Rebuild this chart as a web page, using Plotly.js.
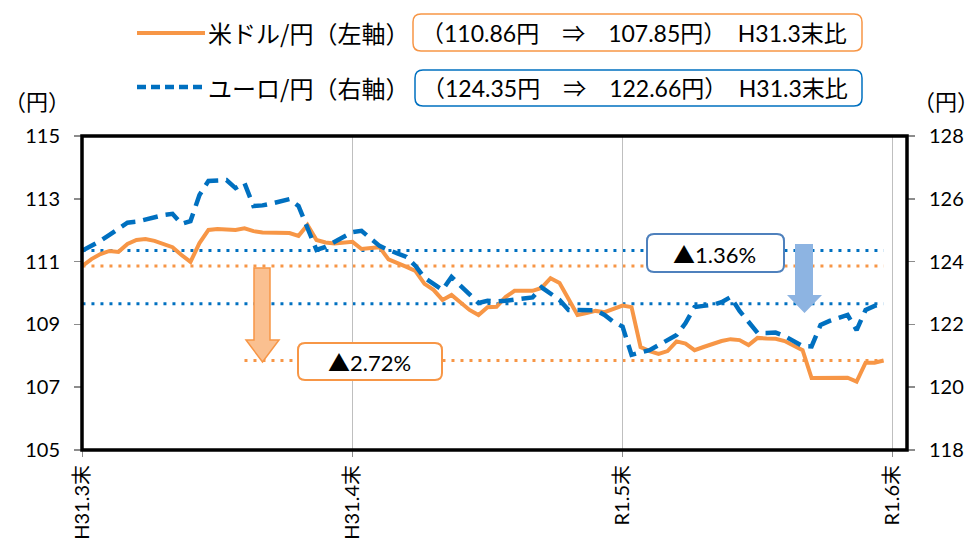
<!DOCTYPE html>
<html>
<head>
<meta charset="utf-8">
<script src="https://cdn.plot.ly/plotly-3.0.1.min.js"></script>
<style>
  html, body { margin: 0; padding: 0; background: #fff; }
  #chart { width: 980px; height: 556px; }
</style>
</head>
<body>
<div id="chart"></div>
<script>
// USD/JPY and EUR/JPY, daily, H31.3末 -> R1.6末

// ---- data ----
const tickPos = [0, 30, 60, 90];
const tickLabels = ['H31.3末', 'H31.4末', 'R1.5末', 'R1.6末'];

// 米ドル/円 (left axis)
const usd = [
  110.86, 111.08, 111.24, 111.34, 111.31, 111.56, 111.69, 111.72, 111.66, 111.56,
  111.46, 111.21, 110.99, 111.59, 112.01, 112.04, 112.04, 112.01, 112.06, 111.97,
  111.93, 111.93, 111.93, 111.91, 111.82, 112.17, 111.69, 111.61, 111.58, 111.61,
  111.63, 111.40, 111.42, 111.46, 111.07, 110.96, 110.83, 110.70, 110.29, 110.10,
  109.78, 109.94, 109.71, 109.46, 109.30, 109.55, 109.56, 109.87, 110.07, 110.07,
  110.07, 110.16, 110.47, 110.32, 109.78, 109.30, 109.36, 109.43, 109.39, 109.49,
  109.60, 109.55, 108.28, 108.15, 108.06, 108.15, 108.46, 108.39, 108.18, 108.28,
  108.38, 108.47, 108.53, 108.50, 108.34, 108.57, 108.55, 108.54, 108.47, 108.34,
  108.18, 107.29, 107.30, 107.30, 107.29, 107.30, 107.18, 107.78, 107.78, 107.85
];

// ユーロ/円 (right axis)
const eur = [
  124.35, 124.50, 124.66, 124.85, 125.04, 125.24, 125.27, 125.34, 125.42, 125.48,
  125.52, 125.20, 125.29, 126.12, 126.57, 126.58, 126.60, 126.34, 126.50, 125.77,
  125.79, 125.85, 125.93, 125.99, 125.77, 125.07, 124.37, 124.47, 124.62, 124.78,
  124.94, 124.98, 124.75, 124.50, 124.37, 124.26, 124.15, 123.86, 123.48, 123.29,
  123.10, 123.51, 123.22, 122.94, 122.68, 122.75, 122.73, 122.75, 122.78, 122.81,
  122.86, 123.18, 123.00, 122.78, 122.46, 122.46, 122.47, 122.45, 122.30, 122.08,
  121.93, 121.03, 121.11, 121.18, 121.34, 121.50, 121.66, 122.04, 122.55, 122.59,
  122.62, 122.71, 122.87, 122.43, 122.08, 121.73, 121.73, 121.74, 121.63, 121.46,
  121.31, 121.30, 121.98, 122.11, 122.19, 122.30, 121.82, 122.46, 122.59, 122.66
];

// ---- helpers ----
const ORANGE = '#F79646';
const BLUE = '#0070C0';
const FONT = 'Lato, "Noto Sans CJK JP", sans-serif';
const JP = '"Noto Sans CJK JP", Lato, sans-serif';

const W = 980, H = 556;
const M = { l: 82, r: 73, t: 136, b: 106 };
const PW = W - M.l - M.r, PH = H - M.t - M.b;

// pixel -> paper coords, for decorations only
function px(x) { return ((x - M.l) / PW).toFixed(5); }
function py(y) { return ((H - M.b - y) / PH).toFixed(5); }

function roundRect(x0, y0, x1, y1, r) {
  return 'M' + px(x0 + r) + ',' + py(y0) +
    ' L' + px(x1 - r) + ',' + py(y0) +
    ' Q' + px(x1) + ',' + py(y0) + ' ' + px(x1) + ',' + py(y0 + r) +
    ' L' + px(x1) + ',' + py(y1 - r) +
    ' Q' + px(x1) + ',' + py(y1) + ' ' + px(x1 - r) + ',' + py(y1) +
    ' L' + px(x0 + r) + ',' + py(y1) +
    ' Q' + px(x0) + ',' + py(y1) + ' ' + px(x0) + ',' + py(y1 - r) +
    ' L' + px(x0) + ',' + py(y0 + r) +
    ' Q' + px(x0) + ',' + py(y0) + ' ' + px(x0 + r) + ',' + py(y0) + ' Z';
}

// down arrow: shaft x0..x1 from yTop to yNeck, head hx0..hx1 to tip
function downArrow(x0, x1, yTop, yNeck, hx0, hx1, yTip) {
  const cx = (hx0 + hx1) / 2;
  return 'M' + px(x0) + ',' + py(yTop) + ' L' + px(x1) + ',' + py(yTop) +
    ' L' + px(x1) + ',' + py(yNeck) + ' L' + px(hx1) + ',' + py(yNeck) +
    ' L' + px(cx) + ',' + py(yTip) + ' L' + px(hx0) + ',' + py(yNeck) +
    ' L' + px(x0) + ',' + py(yNeck) + ' Z';
}

const idx = usd.map((_, i) => i);
const last = usd.length - 1;
const usdChg = ((usd[last] / usd[0] - 1) * 100);
const eurChg = ((eur[last] / eur[0] - 1) * 100);
const sp = '\u3000';

// ---- traces ----
const traces = [
  {
    x: idx, y: usd, name: '米ドル/円（左軸）', type: 'scatter', mode: 'lines',
    line: { color: ORANGE, width: 4 }, yaxis: 'y', hoverinfo: 'skip'
  },
  {
    x: idx, y: eur, name: 'ユーロ/円（右軸）', type: 'scatter', mode: 'lines',
    line: { color: BLUE, width: 4.5, dash: '15px,8px' }, yaxis: 'y2', hoverinfo: 'skip'
  }
];

// ---- shapes ----
const shapes = [
  // start / end reference levels
  { type: 'line', xref: 'x', yref: 'y', x0: 0, x1: last, y0: usd[0], y1: usd[0],
    line: { color: ORANGE, width: 3, dash: '3px,6px' }, layer: 'below' },
  { type: 'line', xref: 'x', yref: 'y', x0: 18, x1: last, y0: usd[last], y1: usd[last],
    line: { color: ORANGE, width: 3, dash: '3px,6px' }, layer: 'below' },
  { type: 'line', xref: 'x', yref: 'y2', x0: 0, x1: last, y0: eur[0], y1: eur[0],
    line: { color: BLUE, width: 3, dash: '3px,6px' }, layer: 'below' },
  { type: 'line', xref: 'x', yref: 'y2', x0: 0, x1: last, y0: eur[last], y1: eur[last],
    line: { color: BLUE, width: 3, dash: '3px,6px' }, layer: 'below' },

  // arrows
  { type: 'path', xref: 'paper', yref: 'paper',
    path: downArrow(254, 270, 268, 340, 246, 279, 362),
    fillcolor: '#FAC090', line: { color: ORANGE, width: 1.5 } },
  { type: 'path', xref: 'paper', yref: 'paper',
    path: downArrow(795, 813, 244, 295, 787, 822, 313),
    fillcolor: '#8DB4E2', line: { width: 0 } },

  // change boxes
  { type: 'path', xref: 'paper', yref: 'paper', path: roundRect(298, 343, 442, 380, 7),
    fillcolor: '#fff', line: { color: ORANGE, width: 2 } },
  { type: 'path', xref: 'paper', yref: 'paper', path: roundRect(647, 234, 784, 272, 7),
    fillcolor: '#fff', line: { color: '#4F81BD', width: 2 } },

  // legend
  { type: 'line', xref: 'paper', yref: 'paper', x0: px(137), x1: px(205), y0: py(33), y1: py(33),
    line: { color: ORANGE, width: 4 } },
  { type: 'line', xref: 'paper', yref: 'paper', x0: px(137), x1: px(205), y0: py(87), y1: py(87),
    line: { color: BLUE, width: 4.5, dash: '9px,5px' } },
  { type: 'path', xref: 'paper', yref: 'paper', path: roundRect(413, 14, 862, 51, 8),
    fillcolor: 'rgba(0,0,0,0)', line: { color: ORANGE, width: 1.5 } },
  { type: 'path', xref: 'paper', yref: 'paper', path: roundRect(415, 70, 862, 106, 8),
    fillcolor: 'rgba(0,0,0,0)', line: { color: BLUE, width: 1.5 } },

  // plot frame
  { type: 'rect', xref: 'paper', yref: 'paper', x0: 0, x1: 1, y0: 0, y1: 1,
    line: { color: '#000', width: 3.5 }, layer: 'above' }
];

// ---- annotations ----
function note(text, x, y, size, anchor, family) {
  return { text: text, xref: 'paper', yref: 'paper', x: px(x), y: py(y),
    xanchor: anchor || 'center', yanchor: 'middle', showarrow: false,
    font: { family: family || FONT, size: size, color: '#000' } };
}

const annotations = [
  note('米ドル/円（左軸）', 206, 33, 24, 'left', JP),
  note('ユーロ/円（右軸）', 206, 87, 24, 'left', JP),
  note('（' + usd[0].toFixed(2) + '円' + sp + '⇒' + sp + usd[last].toFixed(2) + '円）' + sp + 'H31.3末比',
    634, 33, 23),
  note('（' + eur[0].toFixed(2) + '円' + sp + '⇒' + sp + eur[last].toFixed(2) + '円）' + sp + 'H31.3末比',
    635, 88, 23),
  note('▲' + Math.abs(usdChg).toFixed(2) + '%', 370, 362, 22),
  note('▲' + Math.abs(eurChg).toFixed(2) + '%', 715, 254, 22),
  note('（円）', 37, 100, 22, 'center', JP),
  note('（円）', 946, 100, 22, 'center', JP)
];

// ---- layout ----
const layout = {
  width: W, height: H,
  margin: M,
  paper_bgcolor: '#fff',
  plot_bgcolor: '#fff',
  showlegend: false,
  font: { family: FONT, size: 20, color: '#000' },
  xaxis: {
    range: [-0.05, 91.6],
    tickvals: tickPos,
    ticktext: tickLabels,
    tickangle: -90,
    ticks: 'outside', ticklen: 6, tickwidth: 1.5, tickcolor: '#8c8c8c',
    showgrid: true, gridcolor: '#bfbfbf', gridwidth: 1.5,
    zeroline: false, showline: false,
    tickfont: { family: FONT, size: 20, color: '#000' }
  },
  yaxis: {
    range: [105, 115],
    tickvals: [105, 107, 109, 111, 113, 115],
    ticks: 'outside', ticklen: 7, tickwidth: 1.5, tickcolor: '#8c8c8c',
    ticklabelstandoff: 10,
    showgrid: false, zeroline: false, showline: false,
    tickfont: { family: FONT, size: 20, color: '#000' }
  },
  yaxis2: {
    range: [118, 128],
    tickvals: [118, 120, 122, 124, 126, 128],
    overlaying: 'y', side: 'right',
    ticks: 'outside', ticklen: 7, tickwidth: 1.5, tickcolor: '#8c8c8c',
    ticklabelstandoff: 10,
    showgrid: false, zeroline: false, showline: false,
    tickfont: { family: FONT, size: 20, color: '#000' }
  },
  shapes: shapes,
  annotations: annotations
};

Plotly.newPlot('chart', traces, layout, { staticPlot: true, displayModeBar: false });
</script>
</body>
</html>
